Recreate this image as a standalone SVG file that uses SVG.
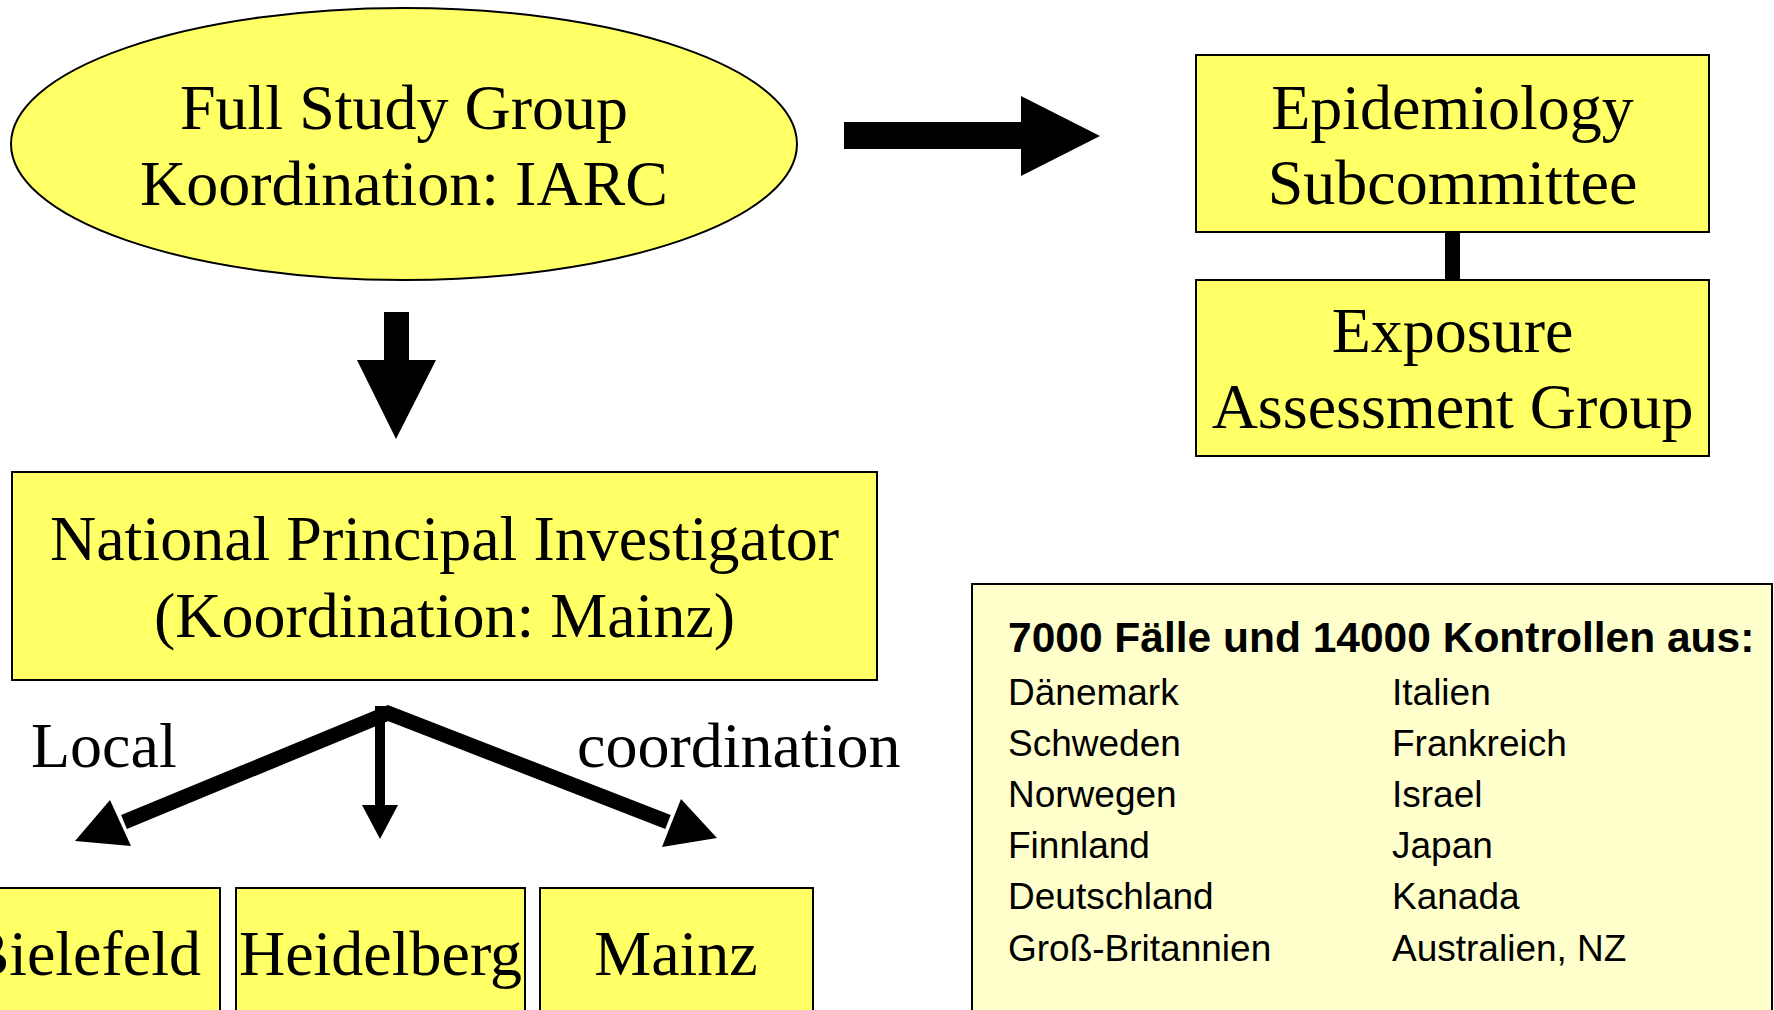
<svg xmlns="http://www.w3.org/2000/svg" width="1774" height="1010" viewBox="0 0 1774 1010">
<style>
.serif{font-family:"Liberation Serif","Times New Roman",serif;font-size:64px;fill:#000;text-anchor:middle}
.node{fill:#FFFF66;stroke:#000;stroke-width:2}
.info{fill:#FFFFCC;stroke:#000;stroke-width:2}
.sans{font-family:"Liberation Sans",Arial,sans-serif;font-size:37px;fill:#000}
.title{font-family:"Liberation Sans",Arial,sans-serif;font-size:42.5px;font-weight:bold;fill:#000}
.arrow{fill:#000;stroke:none}
</style>
<rect width="1774" height="1010" fill="#fff"/>

<g id="full-study-group">
<ellipse class="node" cx="404" cy="144" rx="393" ry="136"/>
<text class="serif" x="404" y="129">Full Study Group</text>
<text class="serif" x="404" y="205">Koordination: IARC</text>
</g>

<g id="epidemiology-subcommittee">
<rect class="node" x="1196" y="55" width="513" height="177"/>
<text class="serif" x="1452.5" y="129">Epidemiology</text>
<text class="serif" x="1452.5" y="204">Subcommittee</text>
</g>

<g id="exposure-assessment-group">
<rect class="node" x="1196" y="280" width="513" height="176"/>
<text class="serif" x="1452.5" y="352">Exposure</text>
<text class="serif" x="1452.5" y="428">Assessment Group</text>
</g>

<g id="national-pi">
<rect class="node" x="12" y="472" width="865" height="208"/>
<text class="serif" x="444.5" y="560">National Principal Investigator</text>
<text class="serif" x="444.5" y="637">(Koordination: Mainz)</text>
</g>

<g id="bielefeld">
<rect class="node" x="-60" y="888" width="280" height="140"/>
<text class="serif" x="201" y="975" style="text-anchor:end">Bielefeld</text>
</g>

<g id="heidelberg">
<rect class="node" x="236" y="888" width="289" height="140"/>
<text class="serif" x="380.5" y="975">Heidelberg</text>
</g>

<g id="mainz">
<rect class="node" x="540" y="888" width="273" height="140"/>
<text class="serif" x="676" y="975">Mainz</text>
</g>

<g id="labels">
<text class="serif" x="31" y="767" style="text-anchor:start">Local</text>
<text class="serif" x="577" y="767" style="text-anchor:start">coordination</text>
</g>

<g id="info-box">
<rect class="info" x="972" y="584" width="800" height="450"/>
<text class="title" x="1008" y="652">7000 Fälle und 14000 Kontrollen aus:</text>
<g class="sans">
<text x="1008" y="705">Dänemark</text>
<text x="1008" y="756">Schweden</text>
<text x="1008" y="807">Norwegen</text>
<text x="1008" y="858">Finnland</text>
<text x="1008" y="909">Deutschland</text>
<text x="1008" y="961">Groß-Britannien</text>
<text x="1392" y="705">Italien</text>
<text x="1392" y="756">Frankreich</text>
<text x="1392" y="807">Israel</text>
<text x="1392" y="858">Japan</text>
<text x="1392" y="909">Kanada</text>
<text x="1392" y="961">Australien, NZ</text>
</g>
</g>

<g id="connectors">
<polygon class="arrow" points="844,122 1021,122 1021,96 1100,136 1021,176 1021,149 844,149"/>
<polygon class="arrow" points="384,312 409,312 409,360 436,360 396,439 357,360 384,360"/>
<rect class="arrow" x="1445" y="232" width="15" height="48"/>
<polyline points="124,822 388,713 668,822" fill="none" stroke="#000" stroke-width="15" stroke-linejoin="miter"/>
<polygon class="arrow" points="75,841 110,800 131,846"/>
<polygon class="arrow" points="717,838 681,799 662,847"/>
<line x1="380" y1="706" x2="380" y2="806" stroke="#000" stroke-width="10"/>
<polygon class="arrow" points="362,805 398,805 380,839"/>
</g>
</svg>
